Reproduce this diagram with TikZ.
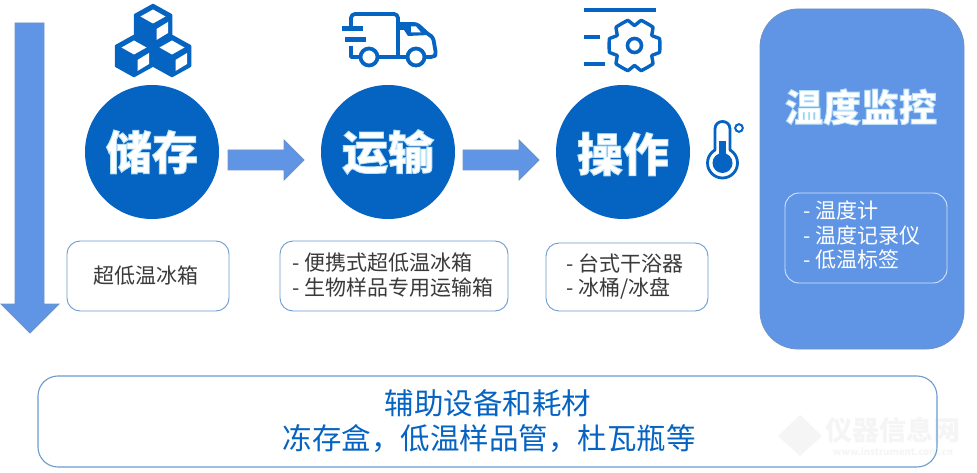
\documentclass[tikz,border=0pt]{standalone}
\usepackage{fontspec}
\setmainfont{Noto Sans CJK SC}
\usetikzlibrary{calc}
\definecolor{deepblue}{HTML}{0563C1}
\definecolor{midblue}{HTML}{5F95E4}
\definecolor{edgeblue}{HTML}{6F93C8}
\definecolor{frameblue}{HTML}{6C9BD0}
\definecolor{bodytext}{HTML}{3A3A3A}
\definecolor{faintmark}{HTML}{F5F5F5}
% White title lettering stroked with a pale blue rim
\newcommand{\halotext}[1]{\textcolor{white}{\special{pdf:code 2 Tr 0.9 w 0.72 0.88 0.97 RG}#1\special{pdf:code 0 Tr 1 w}}}
\tikzset{
  stage/.style={circle,fill=deepblue,minimum size=134pt,inner sep=0pt},
  stagetitle/.style={font=\fontsize{46}{46}\selectfont\bfseries,inner sep=0pt},
  flowarrow/.style={fill=midblue,draw=edgeblue,line width=0.8pt},
  listbox/.style={draw=frameblue,line width=0.9pt,rounded corners=13pt,fill=white},
  listtext/.style={font=\fontsize{21}{21}\selectfont,text=bodytext,inner sep=0pt,anchor=west},
  icon/.style={deepblue,line width=3.8pt,line join=round},
  monitortext/.style={font=\fontsize{21}{21}\selectfont,text=white,inner sep=0pt,anchor=west},
  supplytext/.style={font=\fontsize{29.5}{29.5}\selectfont,text=deepblue,inner sep=0pt}
}
% One isometric block of the stack: the arguments give the centre of the hexagon
\newcommand{\blockicon}[2]{%
  \begin{scope}[shift={(#1,#2)}]
    \fill[deepblue,draw=deepblue,line width=2.5pt,line join=round]
      (0,-20) -- (18,-10) -- (18,10) -- (0,20) -- (-18,10) -- (-18,-10) -- cycle;
    \fill[white] (0,-15.5) -- (12.5,-8.5) -- (0,-1.5) -- (-12.5,-8.5) -- cycle;
    \fill[white] (3.5,4) -- (15,-3) -- (15,8) -- (3.5,15) -- cycle;
  \end{scope}}
\begin{document}
\begin{tikzpicture}[x=1pt,y=-1pt]
\useasboundingbox (0,0) rectangle (977,473);
\fill[white] (0,0) rectangle (977,473);

% Faint maker's mark, lower right
\fill[faintmark] (800,415) -- (822,436) -- (800,456) -- (778,436) -- cycle;
\node[font=\fontsize{27}{27}\selectfont\bfseries,text=faintmark,inner sep=0pt] (markname) at (893,430) {仪器信息网};
\node[font=\fontsize{9.5}{10}\selectfont\bfseries,text=faintmark,inner sep=0pt] (markurl) at (893,452) {www.instrument.com.cn};

% Long downward arrow on the left
\draw[flowarrow] (15,23) -- (44,23) -- (44,304) -- (59,304) -- (30,333) -- (1,304) -- (15,304) -- cycle;

% Stage circles
\node[stage] (store) at (152,152) {};
\node[stage] (ship) at (388,152) {};
\node[stage] (handle) at (623,152) {};
\node[stagetitle] (storetitle) at (152,152) {\halotext{储存}};
\node[stagetitle] (shiptitle) at (388,152) {\halotext{运输}};
\node[stagetitle] (handletitle) at (623,154) {\halotext{操作}};

% Arrows between the stages
\coordinate (a1) at (228,160);
\coordinate (a2) at (463,160);
\draw[flowarrow] (a1) ++(0,-10) -- ++(56,0) -- ++(0,-10) -- ++(20,20) -- ++(-20,20) -- ++(0,-10) -- ++(-56,0) -- cycle;
\draw[flowarrow] (a2) ++(0,-10) -- ++(56,0) -- ++(0,-10) -- ++(20,20) -- ++(-20,20) -- ++(0,-10) -- ++(-56,0) -- cycle;

% Stacked blocks above the storage stage
\blockicon{153}{25}
\blockicon{134}{56}
\blockicon{172}{56}

% Delivery truck above the transport stage
\draw[icon,rounded corners=4pt] (351,27) -- (351,14) -- (398,14) -- (398,56);
\draw[icon] (351,46) -- (351,57) -- (359,57);
\draw[icon] (378,57) -- (407,57);
\draw[icon,rounded corners=3pt] (398,24) -- (417,24) -- (429,35) -- (433,37) -- (436,54) -- (434,57) -- (426,57);
\fill[deepblue] (398,23) -- (417,23) -- (429,35) -- (408,36) -- (404,30) -- (398,30) -- cycle;
\fill[white] (411,26.5) -- (416,26.5) -- (421,32.5) -- (411,32.5) -- cycle;
\draw[icon,fill=white] (369,57) circle (8.5);
\draw[icon,fill=white] (416,57) circle (8.5);
\draw[deepblue,line width=5pt] (342,29) -- (363,29);
\draw[deepblue,line width=5pt] (345,40) -- (366,40);

% Gear and rules above the handling stage
\draw[deepblue,line width=4pt] (584,10) -- (656,10);
\draw[deepblue,line width=4pt] (584,37) -- (600,37);
\draw[deepblue,line width=4pt] (584,64) -- (605,64);
\coordinate (gearhub) at (634.5,45.5);
\draw[deepblue,line width=3.4pt,line join=round]
  plot[smooth cycle,tension=0.15] coordinates {
    ($(gearhub)+(-15:26)$) ($(gearhub)+(15:26)$) ($(gearhub)+(30:20)$)
    ($(gearhub)+(45:26)$) ($(gearhub)+(75:26)$) ($(gearhub)+(90:20)$)
    ($(gearhub)+(105:26)$) ($(gearhub)+(135:26)$) ($(gearhub)+(150:20)$)
    ($(gearhub)+(165:26)$) ($(gearhub)+(195:26)$) ($(gearhub)+(210:20)$)
    ($(gearhub)+(225:26)$) ($(gearhub)+(255:26)$) ($(gearhub)+(270:20)$)
    ($(gearhub)+(285:26)$) ($(gearhub)+(315:26)$) ($(gearhub)+(330:20)$)
  };
\draw[deepblue,line width=3.6pt] (gearhub) circle (7);

% Thermometer: round bulb, open stem, mercury column and degree mark
\coordinate (bulb) at (722.5,163);
\draw[deepblue,line width=2.8pt] (bulb) circle (15);
\fill[white] (716.4,145) rectangle (728.6,153);
\draw[deepblue,line width=2.8pt,line join=round]
  (715,150.5) -- (715,129) .. controls (715,119) and (730,119) .. (730,129) -- (730,150.5);
\fill[deepblue] (719,141) rectangle (726,158);
\fill[deepblue] (bulb) circle (10);
\draw[deepblue,line width=2pt] (739,128) circle (3.8);

% Temperature monitoring panel
\node[draw=edgeblue,line width=0.8pt,fill=midblue,rounded corners=38pt,minimum width=204pt,minimum height=340pt,inner sep=0pt] (monitor) at (862,179) {};
\node[font=\fontsize{38}{38}\selectfont\bfseries,inner sep=0pt] (monitortitle) at (861,107) {\halotext{温度监控}};
\node[draw=white!75!midblue,line width=0.9pt,rounded corners=14pt,minimum width=162pt,minimum height=90pt,inner sep=0pt] (monitorlist) at (866,238) {};
\node[monitortext] (m1) at (803,210) {- 温度计};
\node[monitortext] (m2) at (803,235) {- 温度记录仪};
\node[monitortext] (m3) at (803,260) {- 低温标签};

% Equipment lists under the stages
\node[listbox,minimum width=162pt,minimum height=70pt,inner sep=0pt] (storebox) at (148,276) {};
\node[listbox,minimum width=228pt,minimum height=70pt,inner sep=0pt] (shipbox) at (394,276) {};
\node[listbox,minimum width=162pt,minimum height=68pt,inner sep=0pt] (handlebox) at (627,277) {};
\node[listtext] (s1) at (93,276) {超低温冰箱};
\node[listtext] (t1) at (292,263) {- 便携式超低温冰箱};
\node[listtext] (t2) at (292,288) {- 生物样品专用运输箱};
\node[listtext] (h1) at (566,263) {- 台式干浴器};
\node[listtext] (h2) at (566,288) {- 冰桶/冰盘};

% Supplies strip along the bottom
\node[draw=frameblue,line width=1.1pt,rounded corners=20pt,minimum width=899pt,minimum height=91pt,inner sep=0pt] (supplies) at (487.5,421.5) {};
\node[supplytext] (sup1) at (488,403) {辅助设备和耗材};
\node[supplytext] (sup2) at (489,439) {冻存盒，低温样品管，杜瓦瓶等};
\end{tikzpicture}
\end{document}
